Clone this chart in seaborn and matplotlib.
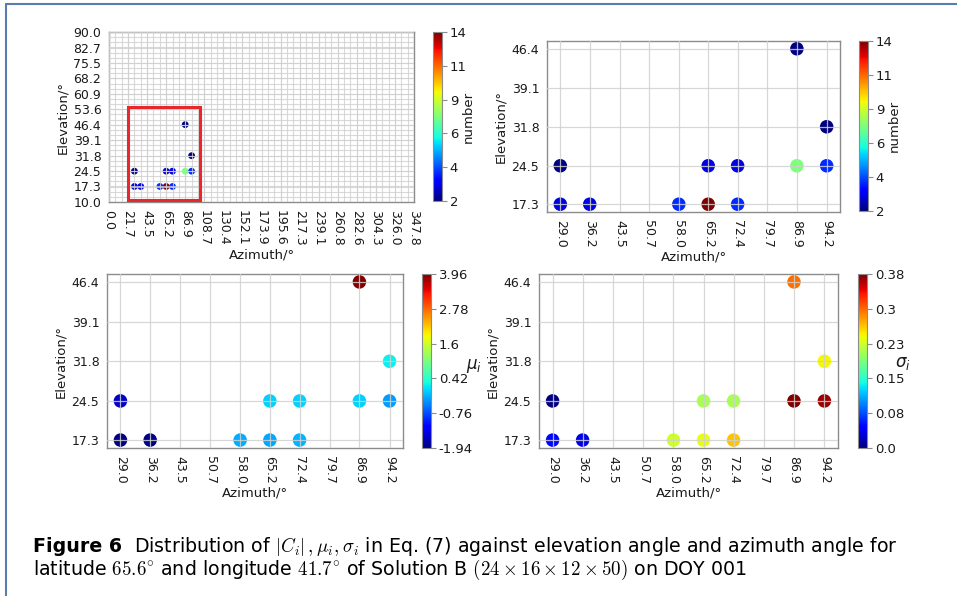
import numpy as np
import pandas as pd
import matplotlib
matplotlib.use("Agg")
import matplotlib.pyplot as plt
import seaborn as sns
from matplotlib.colors import Normalize
from matplotlib.cm import ScalarMappable
from matplotlib.patches import Rectangle
from matplotlib.lines import Line2D

# ---------------- data ----------------
azimuth = [29.0, 29.0, 36.2, 58.0, 65.2, 65.2, 72.4, 72.4, 86.9, 86.9, 94.2, 94.2]
elevation = [17.3, 24.5, 17.3, 17.3, 17.3, 24.5, 17.3, 24.5, 24.5, 46.4, 24.5, 31.8]
number = [3, 2, 3, 4, 14, 3, 4, 3, 8, 2, 4, 2]
mu = [-1.94, -1.55, -1.90, -0.20, -0.22, 0.00, -0.15, 0.00, 0.00, 3.96, -0.30, 0.20]
sigma = [0.05, 0.0, 0.035, 0.228, 0.24, 0.21, 0.266, 0.21, 0.38, 0.30, 0.37, 0.245]

az_full_ticks = [0.0, 21.7, 43.5, 65.2, 86.9, 108.7, 130.4, 152.1, 173.9, 195.6,
                 217.3, 239.1, 260.8, 282.6, 304.3, 326.0, 347.8]
el_full_ticks = [10.0, 17.3, 24.5, 31.8, 39.1, 46.4, 53.6, 60.9, 68.2, 75.5, 82.7, 90.0]
az_zoom_ticks = [29.0, 36.2, 43.5, 50.7, 58.0, 65.2, 72.4, 79.7, 86.9, 94.2]
el_zoom_ticks = [17.3, 24.5, 31.8, 39.1, 46.4]

number_ticks = [2, 4.4, 6.8, 9.2, 11.6, 14]
number_labels = ["2", "4", "6", "9", "11", "14"]
mu_ticks = [-1.94, -0.76, 0.42, 1.60, 2.78, 3.96]
mu_labels = ["-1.94", "-0.76", "0.42", "1.6", "2.78", "3.96"]
sigma_ticks = [0.0, 0.076, 0.152, 0.228, 0.304, 0.38]
sigma_labels = ["0.0", "0.08", "0.15", "0.23", "0.3", "0.38"]

df = pd.DataFrame({"az": azimuth, "el": elevation, "number": number,
                   "mu": mu, "sigma": sigma})

# ---------------- style ----------------
sns.set_style("white")
plt.rcParams["font.family"] = ["DejaVu Sans"]
JET = matplotlib.colormaps["jet"]
TXT = "#1a1a1a"
SPINE = "#8c8c8c"
GRID = "#d0d0d0"
TICK_FS = 9
LAB_FS = 9.5
CB_FS = 9.5

W, H = 957, 596
fig = plt.figure(figsize=(W / 100, H / 100), dpi=100)


def rect(x0, y0, x1, y1):
    return [x0 / W, 1 - y1 / H, (x1 - x0) / W, (y1 - y0) / H]


def style_ax(ax):
    for s in ax.spines.values():
        s.set_color(SPINE)
        s.set_linewidth(1.0)
    ax.tick_params(axis="both", which="major", direction="out", length=3.5,
                   width=0.8, color=SPINE, labelcolor=TXT, labelsize=TICK_FS, pad=2)
    ax.tick_params(axis="both", which="minor", length=0)
    ax.set_axisbelow(False)
    ax.set_xlabel("Azimuth/°", fontsize=LAB_FS, color=TXT, labelpad=2)
    ax.set_ylabel("Elevation/°", fontsize=LAB_FS, color=TXT, labelpad=3)


def add_cbar(cax, lo, hi, ticks, labels, label, rot, lx, ly):
    sm = ScalarMappable(norm=Normalize(lo, hi), cmap=JET)
    cb = fig.colorbar(sm, cax=cax)
    cb.set_ticks(ticks)
    cb.set_ticklabels(labels)
    cb.outline.set_edgecolor(SPINE)
    cb.outline.set_linewidth(0.8)
    cax.tick_params(length=3.5, width=0.8, color=SPINE, labelsize=CB_FS,
                    labelcolor=TXT, pad=2)
    if rot == 0:
        cax.set_ylabel(label, rotation=0, fontsize=12, color=TXT,
                       ha="center", va="center")
    else:
        cax.set_ylabel(label, rotation=90, fontsize=9.5, color=TXT,
                       ha="center", va="center")
    cax.yaxis.set_label_coords(lx, ly)
    return cb


def zoom_panel(ax, col, lo, hi):
    sns.scatterplot(data=df, x="az", y="el", hue=col, palette=JET,
                    hue_norm=(lo, hi), s=95, edgecolor="none", linewidth=0,
                    legend=False, ax=ax, zorder=1)
    ax.set_xticks(az_zoom_ticks)
    ax.set_xticklabels([f"{v:.1f}" for v in az_zoom_ticks], rotation=270)
    ax.set_yticks(el_zoom_ticks)
    ax.set_yticklabels([f"{v:.1f}" for v in el_zoom_ticks])
    ax.margins(0.05)
    ax.grid(True, color=GRID, linewidth=0.9, alpha=0.85, zorder=2.5)
    style_ax(ax)


# ---------------- panel 1: full sky ----------------
ax1 = fig.add_axes(rect(109, 32, 414, 202))
sns.scatterplot(data=df, x="az", y="el", hue="number", palette=JET,
                hue_norm=(2, 14), s=24, edgecolor="none", linewidth=0,
                legend=False, ax=ax1, zorder=1)
ax1.set_xlim(az_full_ticks[0], az_full_ticks[-1])
ax1.set_ylim(el_full_ticks[0], el_full_ticks[-1])
ax1.set_xticks(az_full_ticks)
ax1.set_xticklabels([f"{v:.1f}" for v in az_full_ticks], rotation=270)
ax1.set_yticks(el_full_ticks)
ax1.set_yticklabels([f"{v:.1f}" for v in el_full_ticks])
ax1.set_xticks(np.linspace(az_full_ticks[0], az_full_ticks[-1], 49), minor=True)
ax1.set_yticks(np.linspace(el_full_ticks[0], el_full_ticks[-1], 34), minor=True)
ax1.grid(True, which="both", color=GRID, linewidth=0.8, alpha=0.8, zorder=2.5)
style_ax(ax1)
# highlight box around the data region
bx0 = min(azimuth) - 7.6
bx1 = max(azimuth) + 9.6
by0 = min(elevation) - 6.2
by1 = max(elevation) + 8.1
ax1.add_patch(Rectangle((bx0, by0), bx1 - bx0, by1 - by0, fill=False,
                        edgecolor="#e8262b", linewidth=2.2, zorder=5))
cax1 = fig.add_axes(rect(433, 32, 442, 201))
add_cbar(cax1, 2, 14, number_ticks, number_labels, "number", 90, 3.9, 0.5)

# ---------------- panel 2: number zoom ----------------
ax2 = fig.add_axes(rect(547, 41, 840, 212))
zoom_panel(ax2, "number", 2, 14)
cax2 = fig.add_axes(rect(859, 41, 868, 211))
add_cbar(cax2, 2, 14, number_ticks, number_labels, "number", 90, 3.9, 0.5)

# ---------------- panel 3: mu ----------------
ax3 = fig.add_axes(rect(107, 274, 403, 448))
zoom_panel(ax3, "mu", mu_ticks[0], mu_ticks[-1])
cax3 = fig.add_axes(rect(422, 274, 431, 448))
add_cbar(cax3, mu_ticks[0], mu_ticks[-1], mu_ticks, mu_labels, r"$\mu_i$", 0,
         5.75, 0.47)

# ---------------- panel 4: sigma ----------------
ax4 = fig.add_axes(rect(539, 274, 838, 448))
zoom_panel(ax4, "sigma", sigma_ticks[0], sigma_ticks[-1])
cax4 = fig.add_axes(rect(858, 274, 867, 448))
add_cbar(cax4, sigma_ticks[0], sigma_ticks[-1], sigma_ticks, sigma_labels,
         r"$\sigma_i$", 0, 4.95, 0.49)

# ---------------- frame ----------------
fc = "#5a7db0"
fig.add_artist(Line2D([6 / W, 1], [1 - 4 / H, 1 - 4 / H], color=fc, lw=1.5,
                      transform=fig.transFigure))
fig.add_artist(Line2D([6 / W, 6 / W], [0, 1 - 4 / H], color=fc, lw=1.5,
                      transform=fig.transFigure))

# ---------------- caption ----------------
cap_font = ["DejaVu Sans"]
X0 = 33
Y1, Y2 = 552, 575
TARGET_W = 865
fs = 14
t1 = fig.text(X0 / W, 1 - Y1 / H, "Figure 6", fontsize=fs, weight="bold",
              family=cap_font, va="baseline", color="black")
t2 = fig.text(X0 / W, 1 - Y1 / H,
              r"  Distribution of $|C_i|\,,\mu_i,\sigma_i$ in Eq. (7) against elevation angle and azimuth angle for",
              fontsize=fs, family=cap_font, math_fontfamily="cm",
              va="baseline", color="black")
t3 = fig.text(X0 / W, 1 - Y2 / H,
              r"latitude $65.6^{\circ}$ and longitude $41.7^{\circ}$ of Solution B $(24\times16\times12\times50)$ on DOY 001",
              fontsize=fs, family=cap_font, math_fontfamily="cm", va="baseline",
              color="black")
for _ in range(2):
    fig.canvas.draw()
    r = fig.canvas.get_renderer()
    w1 = t1.get_window_extent(r).width
    w2 = t2.get_window_extent(r).width
    scale = TARGET_W / (w1 + w2)
    fs = fs * scale
    for t in (t1, t2, t3):
        t.set_fontsize(fs)
    fig.canvas.draw()
    w1 = t1.get_window_extent(r).width
    t2.set_x((X0 + w1) / W)

fig.savefig("out.png", dpi=100)
